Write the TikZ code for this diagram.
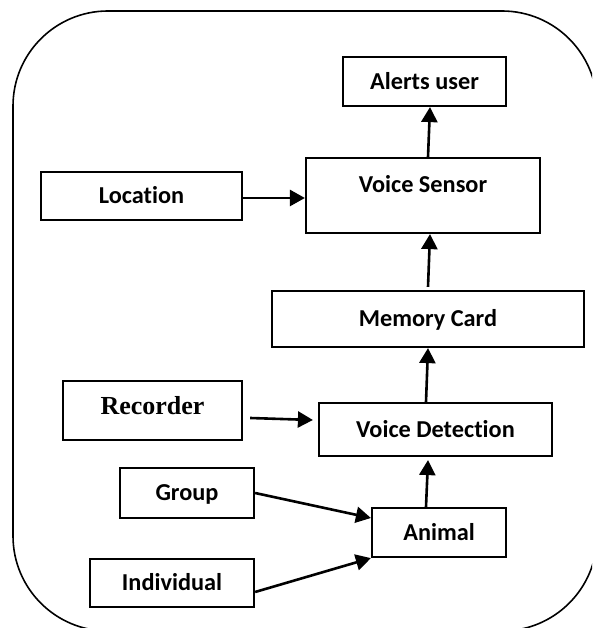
\documentclass[tikz,border=0pt]{standalone}
\usepackage{fontspec}
\setmainfont{Carlito}[Ligatures=NoCommon]
\newfontfamily\recfont{Liberation Serif}
\usetikzlibrary{arrows.meta}
\tikzset{
  box/.style={draw=black, line width=2.2pt, fill=white, inner sep=0pt,
    font=\fontsize{24.3}{29}\selectfont\bfseries, text height=15.5pt, text depth=0pt},
  conn/.style={line width=2.6pt, -{Triangle[length=15pt,width=16pt]}},
  frame/.style={draw=black, line width=1.6pt, rounded corners=95pt}
}
\begin{document}
\begin{tikzpicture}[x=1pt,y=1pt]
\useasboundingbox (0,0) rectangle (592,628);
\clip (0,0) rectangle (592,628);
\draw[frame] (13,-3) rectangle (597,617);
\node[box, minimum width=163pt, minimum height=49pt] (al) at (424.5,546.5) {Alerts user};
\node[box, minimum width=234pt, minimum height=75pt, text depth=21.5pt] (vs) at (423,432.5) {Voice Sensor};
\node[box, minimum width=201pt, minimum height=48pt] (loc) at (141.5,432) {Location};
\node[box, minimum width=312pt, minimum height=56pt] (mc) at (428,309) {Memory Card};
\node[box, minimum width=179pt, minimum height=59pt, text height=16.5pt, text depth=7.5pt,
  font=\fontsize{26}{31}\recfont\bfseries] (rec) at (152.5,217.5) {Recorder};
\node[box, minimum width=233pt, minimum height=53pt] (vd) at (435.5,198.5) {Voice Detection};
\node[box, minimum width=134pt, minimum height=50pt] (grp) at (187,135) {Group};
\node[box, minimum width=134pt, minimum height=49pt] (an) at (439,95.5) {Animal};
\node[box, minimum width=164pt, minimum height=48pt] (ind) at (172,45) {Individual};
% connectors
\draw[conn] ([yshift=-2pt]loc.east) -- ([yshift=-2pt]loc.east -| vs.west);
\draw[conn] ([xshift=5pt]vs.north) -- ([xshift=5.5pt]al.south);
\draw[conn] ([yshift=3pt]mc.north) -- ([xshift=7pt]vs.south);
\draw[conn] ([xshift=-9.5pt]vd.north) -- (mc.south);
\draw[conn] ([xshift=-13pt]an.north) -- ([xshift=-7.5pt,yshift=-3pt]vd.south);
\draw[conn] ([shift={(7pt,-7.5pt)}]rec.east) -- ([shift={(-5pt,9.5pt)}]vd.west);
\draw[conn] (grp.east) -- ([yshift=14.5pt]an.west);
\draw[conn] ([yshift=-9pt]ind.east) -- (an.south west);
\end{tikzpicture}
\end{document}
